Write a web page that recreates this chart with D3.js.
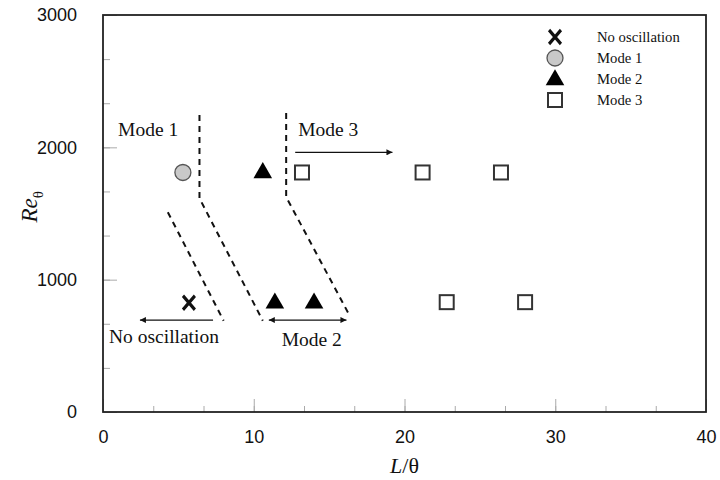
<!DOCTYPE html>
<html>
<head>
<meta charset="utf-8">
<script src="https://cdn.jsdelivr.net/npm/d3@7"></script>
<style>
  html, body { margin: 0; padding: 0; background: #fff; }
  svg { display: block; }
</style>
</head>
<body>
<svg id="chart" width="720" height="480"></svg>
<script>
// Oscillation regime map: Re_theta against L/theta
const xTicks = [0, 10, 20, 30, 40];
const yTicks = [0, 1000, 2000, 3000];

const noOscX = [5.7];
const noOscY = [825];
const mode1X = [5.3];
const mode1Y = [1810];
const mode2X = [10.6, 11.4, 14.0];
const mode2Y = [1815, 830, 830];
const mode3X = [13.2, 21.2, 26.4, 22.8, 28.0];
const mode3Y = [1810, 1810, 1810, 830, 830];

// Regime boundaries (dashed)
const boundaryA = [[4.3, 1510], [8.0, 690]];
const boundaryB = [[6.4, 2245], [6.4, 1615], [10.6, 690]];
const boundaryC = [[12.15, 2260], [12.15, 1625], [16.4, 720]];

// Annotation arrows
const arrowMode3 = [[12.75, 1962], [19.2, 1962]];
const arrowNoOsc = [[7.3, 695], [2.45, 695]];
const arrowMode2 = [[11.0, 695], [16.15, 695]];

const annotations = [
  { text: "Mode 1", x: 1.0, y: 2085 },
  { text: "Mode 3", x: 12.95, y: 2085 },
  { text: "No oscillation", x: 0.4, y: 520 },
  { text: "Mode 2", x: 11.85, y: 495 }
];

const legendItems = ["No oscillation", "Mode 1", "Mode 2", "Mode 3"];

const svg = d3.select("#chart");
const margin = { left: 103, right: 14, top: 15, bottom: 68 };
const W = 720, H = 480;

const x = d3.scaleLinear().domain([0, 40]).range([margin.left, W - margin.right]);
const y = d3.scaleLinear().domain([0, 3000]).range([H - margin.bottom, margin.top]);

// Minor ticks (thirds of each major interval) drawn inside the frame
const xMinor = d3.range(0, 40.01, 10 / 3);
const yMinor = d3.range(0, 3000.1, 1000 / 3);

const tickColor = "#aaa";
const gx = svg.append("g").attr("transform", `translate(0,${y(0)})`);
gx.call(d3.axisBottom(x).tickValues(xMinor).tickSize(-6).tickFormat(""));
gx.select(".domain").remove();
gx.selectAll("line").attr("stroke", tickColor);
const gxM = svg.append("g").attr("transform", `translate(0,${y(0)})`);
gxM.call(d3.axisBottom(x).tickValues(xTicks).tickSize(-13).tickPadding(18).tickFormat(d3.format("d")));
gxM.select(".domain").remove();
gxM.selectAll("line").attr("stroke", tickColor);
gxM.selectAll("text").attr("font-family", "Liberation Sans, Arial, sans-serif").attr("font-size", 18).attr("fill", "#111");

const gy = svg.append("g").attr("transform", `translate(${x(0)},0)`);
gy.call(d3.axisLeft(y).tickValues(yMinor).tickSize(-7).tickFormat(""));
gy.select(".domain").remove();
gy.selectAll("line").attr("stroke", tickColor);
const gyM = svg.append("g").attr("transform", `translate(${x(0)},0)`);
gyM.call(d3.axisLeft(y).tickValues(yTicks).tickSize(-14).tickPadding(26).tickFormat(d3.format("d")));
gyM.select(".domain").remove();
gyM.selectAll("line").attr("stroke", tickColor);
gyM.selectAll("text").attr("font-family", "Liberation Sans, Arial, sans-serif").attr("font-size", 18).attr("fill", "#111");

// Frame
svg.append("rect")
  .attr("x", x(0)).attr("y", y(3000))
  .attr("width", x(40) - x(0)).attr("height", y(0) - y(3000))
  .attr("fill", "none").attr("stroke", "#222").attr("stroke-width", 1.8);

// Axis titles
svg.append("text")
  .attr("x", (x(0) + x(40)) / 2).attr("y", 473)
  .attr("text-anchor", "middle")
  .attr("font-family", "Liberation Serif, Times New Roman, serif")
  .attr("font-size", 22).attr("fill", "#111")
  .call(t => {
    t.append("tspan").attr("font-style", "italic").text("L");
    t.append("tspan").text("/θ");
  });

svg.append("text")
  .attr("transform", `translate(37,${y(1550)}) rotate(-90)`)
  .attr("text-anchor", "middle")
  .attr("font-family", "Liberation Serif, Times New Roman, serif")
  .attr("font-size", 23).attr("fill", "#111")
  .call(t => {
    t.append("tspan").attr("font-style", "italic").text("Re");
    t.append("tspan").attr("font-size", 15).attr("dy", 6).text("θ");
  });

// Arrow heads
const defs = svg.append("defs");
defs.append("marker")
  .attr("id", "head").attr("viewBox", "0 0 10 10")
  .attr("refX", 10).attr("refY", 5)
  .attr("markerWidth", 14).attr("markerHeight", 6)
  .attr("markerUnits", "userSpaceOnUse")
  .attr("orient", "auto-start-reverse")
  .append("path").attr("d", "M0,0 L10,5 L0,10 Z").attr("fill", "#111");

const line = d3.line().x(d => x(d[0])).y(d => y(d[1]));

[boundaryA, boundaryB, boundaryC].forEach(b => {
  svg.append("path").attr("d", line(b))
    .attr("fill", "none").attr("stroke", "#111")
    .attr("stroke-width", 2).attr("stroke-dasharray", "6,5");
});

svg.append("path").attr("d", line(arrowMode3))
  .attr("stroke", "#111").attr("stroke-width", 1.3).attr("marker-end", "url(#head)");
svg.append("path").attr("d", line(arrowNoOsc))
  .attr("stroke", "#111").attr("stroke-width", 1.3).attr("marker-end", "url(#head)");
svg.append("path").attr("d", line(arrowMode2))
  .attr("stroke", "#111").attr("stroke-width", 1.3)
  .attr("marker-start", "url(#head)").attr("marker-end", "url(#head)");

svg.append("g").selectAll("text").data(annotations).join("text")
  .attr("x", d => x(d.x)).attr("y", d => y(d.y))
  .attr("font-family", "Liberation Serif, Times New Roman, serif")
  .attr("font-size", 19.5).attr("fill", "#111")
  .text(d => d.text);

// Marker styles
const symX = d3.symbol().type(d3.symbolX).size(130);
const symTri = d3.symbol().type(d3.symbolTriangle).size(150);

function drawX(g, px, py) {
  g.append("path").attr("d", symX()).attr("transform", `translate(${px},${py}) scale(0.85,1)`)
    .attr("fill", "none").attr("stroke", "#111").attr("stroke-width", 3.6);
}
function drawCircle(g, px, py) {
  g.append("circle").attr("cx", px).attr("cy", py).attr("r", 8)
    .attr("fill", "#c9c9c9").attr("stroke", "#555").attr("stroke-width", 1.3);
}
function drawTri(g, px, py) {
  g.append("path").attr("d", symTri()).attr("transform", `translate(${px},${py + 1})`)
    .attr("fill", "#000");
}
function drawSquare(g, px, py) {
  g.append("rect").attr("x", px - 7).attr("y", py - 7).attr("width", 14).attr("height", 14)
    .attr("fill", "#fff").attr("stroke", "#333").attr("stroke-width", 2);
}

const pts = svg.append("g");
noOscX.forEach((v, i) => drawX(pts, x(v), y(noOscY[i])));
mode1X.forEach((v, i) => drawCircle(pts, x(v), y(mode1Y[i])));
mode2X.forEach((v, i) => drawTri(pts, x(v), y(mode2Y[i])));
mode3X.forEach((v, i) => drawSquare(pts, x(v), y(mode3Y[i])));

// Legend
const legend = svg.append("g");
const drawers = [drawX, drawCircle, drawTri, drawSquare];
legendItems.forEach((name, i) => {
  const ly = 37 + i * 21;
  drawers[i](legend, 555, ly);
  legend.append("text").attr("x", 597).attr("y", ly)
    .attr("dy", "0.35em")
    .attr("font-family", "Liberation Serif, Times New Roman, serif")
    .attr("font-size", 14.7).attr("fill", "#111")
    .text(name);
});
</script>
</body>
</html>
